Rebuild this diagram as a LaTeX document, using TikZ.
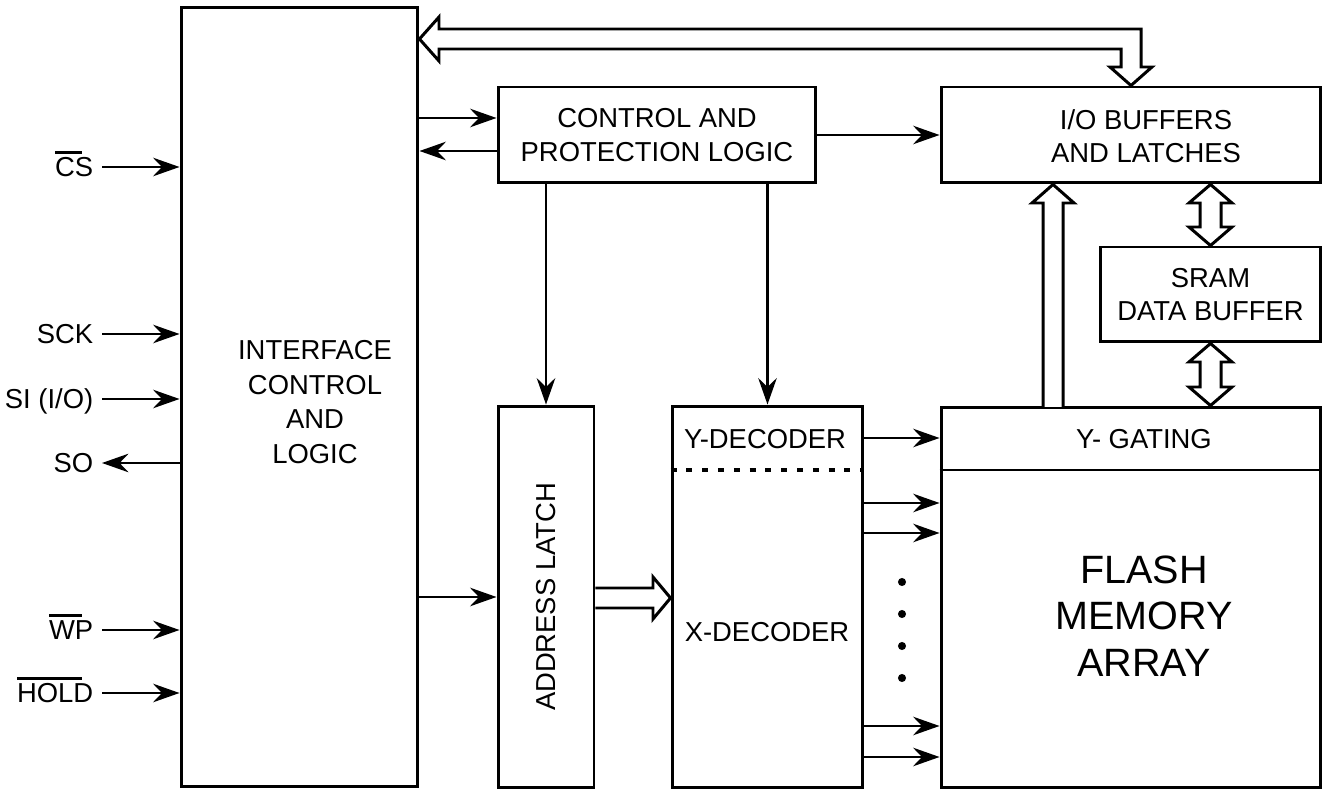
\documentclass[tikz,border=0pt]{standalone}
\usepackage{fontspec}
\setmainfont{Liberation Sans}
\usetikzlibrary{arrows.meta, positioning, calc}
\newcommand{\blockfont}{\fontsize{15.6}{19}\selectfont}
\newcommand{\bigfont}{\fontsize{22.5}{26.6}\selectfont}
\newcommand{\nbar}[1]{\leavevmode\vbox{\hrule height 1.5pt\kern 2.3pt\hbox{#1\kern-0.4em}}\kern0.4em}
\tikzset{
  block/.style={draw, line width=1.7pt, inner sep=0pt, align=center, font=\blockfont},
  txt/.style={inner sep=0pt, align=center, font=\blockfont},
  lbl/.style={inner sep=0pt, outer xsep=5pt, text height=11.2pt, text depth=0pt, font=\blockfont},
  sig/.style={-{Stealth[length=15pt, width=10.5pt, inset=5pt]}, line width=1.7pt},
  bus/.style={draw, line width=1.7pt, fill=white, line join=miter},
}

\begin{document}
\begin{tikzpicture}[x=0.02cm, y=-0.02cm]
    \useasboundingbox (0,0) rectangle (1323,790);

    % blocks
    \node[block, minimum width=4.74cm, minimum height=15.6cm] (ifc) at (299.5,397) {};
    \node[txt, font=\fontsize{15.6}{19.8}\selectfont] (ifc-t) at (315,402) {INTERFACE\\CONTROL\\AND\\LOGIC};
    \node[block, minimum width=6.36cm, minimum height=1.92cm] (cpl) at (657,135)
      {CONTROL AND\\PROTECTION LOGIC};
    \node[block, minimum width=7.6cm, minimum height=1.92cm] (iob) at (1131,135) {};
    \node[txt] (iob-t) at (1146,136) {I/O BUFFERS\\AND LATCHES};
    \node[block, minimum width=4.42cm, minimum height=1.9cm] (sram) at (1210.5,294.5)
      {SRAM\\DATA BUFFER};
    \node[block, minimum width=1.92cm, minimum height=7.64cm] (al) at (546,597) {};
    \node[txt, rotate=90] (al-t) at (546,597) {ADDRESS LATCH};
    \node[block, minimum width=3.82cm, minimum height=7.64cm] (dec) at (767.5,597) {};
    \node[txt] (ydec) at (765,439) {Y-DECODER};
    \node[txt] (xdec) at (767,632) {X-DECODER};
    \node[block, minimum width=7.6cm, minimum height=7.62cm] (flash) at (1131,597.5) {};
    \node[txt] (ygate) at (1144,439) {Y- GATING};
    \node[txt, font=\bigfont] (flash-t) at (1144,616) {FLASH\\MEMORY\\ARRAY};

    \draw[line width=1.7pt] (flash.west |- 0,470) -- (flash.east |- 0,470);
    \draw[line width=2.2pt, dash pattern=on 3.4pt off 5.6pt] (dec.west |- 0,470) -- (dec.east |- 0,470);

    % pins
    \node[lbl, anchor=east] (cs) at (102,167) {\nbar{CS}};
    \node[lbl, anchor=east] (sck) at (102,334) {SCK};
    \node[lbl, anchor=east] (si) at (102,399) {SI (I/O)};
    \node[lbl, anchor=east] (so) at (102,463) {SO};
    \node[lbl, anchor=east] (wp) at (102,630) {\nbar{WP}};
    \node[lbl, anchor=east] (hold) at (102,693) {\nbar{HOLD}};
    \foreach \s in {cs,sck,si,wp,hold}
      \draw[sig] (\s) -- (\s -| ifc.west);
    \draw[sig] (so -| ifc.west) -- (so);

    % control paths
    \draw[sig] (ifc.east |- 0,118) -- (cpl.west |- 0,118);
    \draw[sig] (cpl.west |- 0,151) -- (ifc.east |- 0,151);
    \draw[sig] (cpl) -- (iob);
    \draw[sig] (al.north |- cpl.south) -- (al.north);
    \draw[sig] (dec.north |- cpl.south) -- (dec.north);
    \draw[sig] (ifc.east |- al) -- (al);
    \draw[sig] (dec.east |- 0,438) -- (flash.west |- 0,438);
    \foreach \y in {503,533,726,757}
      \draw[sig] (dec.east |- 0,\y) -- (flash.west |- 0,\y);
    \foreach \y in {582,614,646,678}
      \fill (902,\y) circle[radius=2.3pt];

    % data buses
    \draw[bus] (ifc.east |- 0,39) -- (439,17) -- (439,29) -- (1141,29) -- (1141,67) -- (1152,67)
      -- (iob.north) -- (1110,67) -- (1121,67) -- (1121,49) -- (439,49) -- (439,61) -- cycle;
    \draw[bus] (1043,407) -- (1043,203) -- (1032,203) -- (iob.south -| 1053,0) -- (1074,203)
      -- (1063,203) -- (1063,407);
    \draw[bus] (sram.north |- iob.south) -- (1232,203) -- (1221,203) -- (1221,227) -- (1232,227)
      -- (sram.north) -- (1189,227) -- (1200,227) -- (1200,203) -- (1189,203) -- cycle;
    \draw[bus] (sram.south) -- (1232,362) -- (1221,362) -- (1221,387) -- (1232,387)
      -- (sram.south |- flash.north) -- (1189,387) -- (1200,387) -- (1200,362) -- (1189,362) -- cycle;
    \draw[bus] (al.east |- 0,588) -- (653,588) -- (653,577) -- (dec.west |- 0,598) -- (653,619)
      -- (653,608) -- (al.east |- 0,608);
  \end{tikzpicture}
\end{document}
